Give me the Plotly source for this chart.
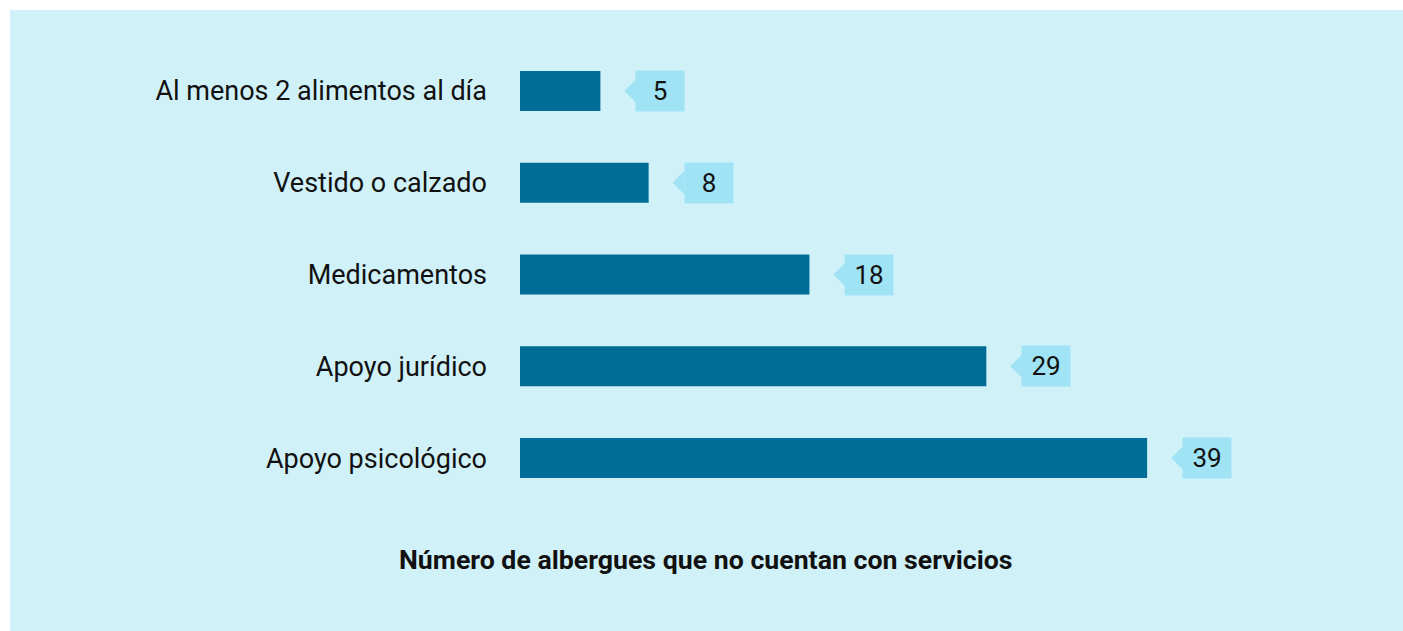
import plotly.graph_objects as go

categories = ["Al menos 2 alimentos al día", "Vestido o calzado", "Medicamentos",
              "Apoyo jurídico", "Apoyo psicológico"]
values = [5, 8, 18, 29, 39]
axis_title = "Número de albergues que no cuentan con servicios"

W, H = 1403, 631
L, R, T, B = 520, 3, 45, 127
pw, ph = W - L - R, H - T - B
xmax = pw / 16.08

BAR = "#006d96"
CALL = "#9fe3f5"
BG = "#d1f1f8"
FS = 27

fig = go.Figure(go.Bar(
    x=values, y=categories, orientation="h",
    marker=dict(color=BAR, line=dict(width=0)),
    width=0.436, hoverinfo="skip",
))

shapes = [dict(type="rect", xref="paper", yref="paper", layer="below",
               x0=(10 - L) / pw, x1=(W - L) / pw,
               y0=-(H - (T + ph)) / ph, y1=(T + ph - 10) / ph,
               fillcolor=BG, line=dict(width=0))]
annotations = []
for c, v in zip(categories, values):
    shapes.append(dict(type="path", xref="x", yref="y",
                       xsizemode="pixel", ysizemode="pixel",
                       xanchor=v, yanchor=c,
                       path="M 24 0 L 36 -12 L 36 12 Z",
                       fillcolor=CALL, line=dict(width=0)))
    annotations.append(dict(x=v, y=c, xref="x", yref="y", text=str(v),
                            showarrow=False, xanchor="left", yanchor="middle",
                            xshift=35, width=44, height=36, bgcolor=CALL,
                            borderpad=2, align="center",
                            font=dict(family="Roboto", size=FS - 1, color="#111")))
annotations.append(dict(x=(706 - L) / pw, y=(T + ph - 560) / ph, xref="paper", yref="paper",
                        text="<b>" + axis_title + "</b>", showarrow=False,
                        xanchor="center", yanchor="middle",
                        font=dict(family="Roboto", size=26.7, color="#111")))

fig.update_layout(
    width=W, height=H, margin=dict(l=L, r=R, t=T, b=B),
    paper_bgcolor="white", plot_bgcolor="rgba(0,0,0,0)",
    showlegend=False, shapes=shapes, annotations=annotations,
    font=dict(family="Roboto", size=FS, color="#111"),
)
fig.update_xaxes(range=[0, xmax], visible=False)
fig.update_yaxes(autorange="reversed", showgrid=False, zeroline=False,
                 showline=False, ticks="", ticklabelstandoff=32,
                 tickfont=dict(family="Roboto", size=FS, color="#111"))

fig.write_html("out.html", config={"displayModeBar": False},
               post_script="document.body.style.margin='0px';")
